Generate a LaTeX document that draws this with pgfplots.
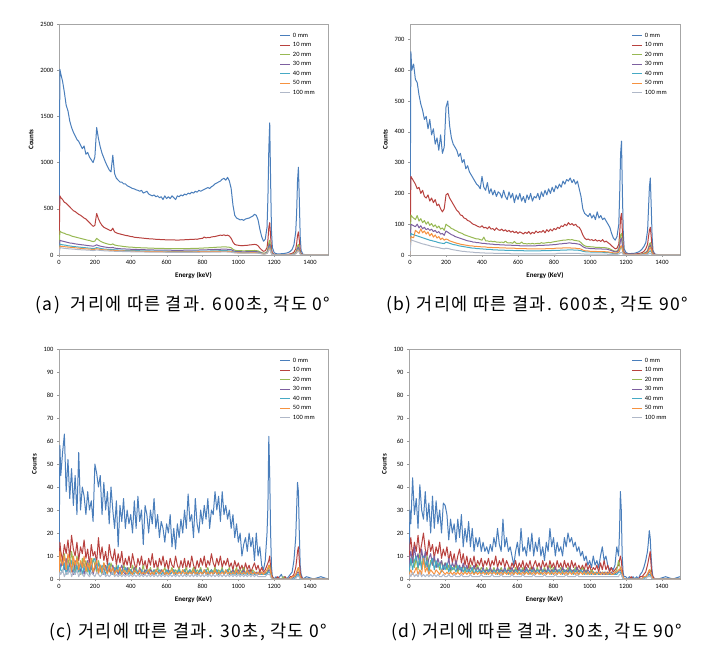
\documentclass[border=0pt]{standalone}
\usepackage{fontspec}
\setmainfont{Carlito}
\newfontfamily\kr[LetterSpace=8]{Noto Sans CJK KR}
\usepackage{pgfplots}
\usepackage{pgfplotstable}
\pgfplotsset{compat=1.18}
\definecolor{c0}{HTML}{4A7EBB}
\definecolor{c1}{HTML}{B8423F}
\definecolor{c2}{HTML}{98B954}
\definecolor{c3}{HTML}{7D60A0}
\definecolor{c4}{HTML}{46AAC5}
\definecolor{c5}{HTML}{F69240}
\definecolor{c6}{HTML}{B0B8C8}

\pgfplotstableread{
x s0 s1 s2 s3 s4 s5 s6
0 0 0 0 0 0 0 0
5 2010 640 260 160 120 100 80
10 1960 620 250 155 115 95 78
20 1880 600 240 150 110 92 75
30 1760 570 235 145 108 90 72
40 1620 560 225 140 105 88 70
50 1560 540 220 135 100 86 68
60 1450 520 215 130 98 84 66
70 1380 500 205 128 95 82 65
80 1330 480 200 125 92 80 63
90 1290 470 195 120 90 78 62
100 1250 455 190 118 88 76 60
110 1230 440 185 115 86 74 58
120 1190 430 180 112 84 72 57
130 1150 415 175 110 82 70 56
140 1180 400 170 108 80 68 55
150 1090 390 165 105 78 66 54
160 1110 370 160 102 76 65 53
170 1060 350 158 100 75 64 52
180 1030 330 150 98 72 62 50
190 1000 310 145 95 70 60 48
200 1060 320 150 100 72 62 50
210 1380 450 180 110 80 68 56
220 1260 390 165 102 76 64 52
230 1170 350 150 96 72 60 50
240 1100 320 140 92 68 58 48
250 1050 300 132 88 65 56 46
260 1000 290 126 85 63 55 45
270 960 280 120 82 62 54 44
280 920 270 115 80 60 52 43
290 900 262 112 78 58 50 42
300 1080 290 120 82 60 52 42
310 880 250 108 75 56 48 40
320 830 240 104 72 55 47 40
330 810 232 100 70 54 46 39
340 790 228 98 68 53 45 38
350 790 222 95 67 52 44 38
360 770 218 92 66 51 44 37
370 770 212 90 65 50 43 37
380 750 210 88 64 50 43 36
390 740 205 86 63 49 42 36
400 730 200 85 62 48 42 35
410 720 198 84 61 48 41 35
420 715 192 82 60 47 41 34
430 705 190 80 60 47 40 34
440 700 188 80 59 46 40 34
450 690 186 79 58 46 40 33
460 700 184 78 58 45 39 33
470 670 182 77 57 45 39 33
480 680 180 76 57 44 38 32
490 690 178 76 56 44 38 32
500 660 176 75 56 44 38 32
510 650 175 74 55 43 37 31
520 640 174 74 55 43 37 31
530 650 172 73 54 43 37 31
540 630 170 73 54 42 36 31
550 640 170 72 54 42 36 30
560 620 168 72 53 42 36 30
570 630 167 71 53 41 36 30
580 600 166 71 53 41 35 30
590 640 165 70 52 41 35 30
600 610 165 70 52 41 35 29
610 630 164 70 52 40 35 29
620 610 164 69 52 40 35 29
630 640 163 69 51 40 34 29
640 620 163 69 51 40 34 29
650 600 162 68 51 40 34 28
660 640 162 68 51 39 34 28
670 630 162 68 51 39 34 28
680 650 163 68 51 39 34 28
690 640 164 69 51 39 34 28
700 660 165 69 52 40 34 28
710 650 166 70 52 40 34 28
720 670 167 70 52 40 35 28
730 660 168 70 52 40 35 29
740 680 170 71 53 40 35 29
750 670 168 71 53 41 35 29
760 690 172 72 53 41 35 29
770 680 170 72 54 41 35 29
780 700 175 73 54 41 36 29
790 690 178 74 55 42 36 30
800 700 180 75 55 42 36 30
810 710 195 76 56 42 36 30
820 720 185 77 56 43 37 30
830 730 190 78 57 43 37 30
840 720 188 79 57 43 37 31
850 740 195 80 58 44 38 31
860 750 198 81 59 44 38 31
870 770 200 82 60 45 38 31
880 780 205 84 61 45 39 32
890 790 210 85 62 46 39 32
900 800 215 86 62 46 40 32
910 820 212 87 63 47 40 33
920 830 218 88 64 47 40 33
930 810 210 87 63 47 40 33
940 840 215 86 62 46 39 32
950 800 205 84 61 45 38 32
960 720 180 78 57 42 36 30
970 540 140 62 47 36 31 26
980 430 115 52 40 31 27 23
990 400 108 48 37 29 25 22
1000 390 105 47 36 28 25 21
1010 380 102 46 36 28 24 21
1020 385 100 46 35 27 24 21
1030 375 102 45 35 27 24 20
1040 390 104 46 35 27 24 20
1050 395 105 46 36 28 24 20
1060 400 108 47 36 28 24 21
1070 410 110 48 37 28 25 21
1080 420 112 48 37 29 25 21
1090 440 115 49 38 29 25 21
1100 430 112 48 37 28 24 21
1110 380 100 44 34 26 22 19
1120 280 75 34 27 21 18 16
1130 200 55 26 21 17 15 13
1140 150 40 20 16 13 12 10
1150 170 45 22 18 14 13 11
1160 300 80 35 28 22 19 16
1165 620 160 70 52 40 35 30
1170 1150 300 130 95 72 62 52
1175 1430 350 160 120 90 78 65
1180 800 200 90 68 52 45 38
1185 250 65 30 23 18 16 13
1190 80 20 10 8 6 5 5
1200 25 8 4 3 3 2 2
1210 15 5 3 2 2 2 1
1220 12 4 2 2 1 1 1
1230 12 4 2 2 1 1 1
1240 14 4 2 2 1 1 1
1250 15 5 2 2 1 1 1
1260 18 5 3 2 2 1 1
1270 22 6 3 2 2 2 1
1280 28 8 4 3 2 2 2
1290 40 12 5 4 3 3 2
1300 60 18 8 6 5 4 3
1310 110 30 14 10 8 7 6
1320 250 65 30 22 17 15 12
1325 450 120 55 40 30 26 22
1330 800 210 95 70 52 45 38
1335 950 250 115 85 63 55 46
1340 600 160 72 54 40 35 29
1345 200 55 25 18 14 12 10
1350 50 15 7 5 4 3 3
1360 8 3 1 1 1 1 1
1380 2 1 0 0 0 0 0
1420 0 0 0 0 0 0 0
1460 0 0 0 0 0 0 0
1500 0 0 0 0 0 0 0
}\ta

\pgfplotstableread{
x s0 s1 s2 s3 s4 s5 s6
0 0 0 0 0 0 0 0
5 660 255 130 100 70 60 50
10 600 250 125 98 68 58 48
20 620 240 120 95 66 56 46
30 570 230 115 92 64 80 44
40 560 215 128 100 62 75 42
50 520 220 110 88 60 70 40
60 490 200 118 95 58 85 38
70 470 210 105 85 56 72 36
80 440 190 112 90 54 78 35
90 450 185 100 82 52 68 33
100 410 195 108 86 50 75 32
110 440 175 96 80 48 62 30
120 390 185 102 84 47 70 28
130 410 170 92 76 45 58 27
140 360 180 98 80 44 65 26
150 380 160 88 72 42 55 25
160 340 165 94 76 40 60 24
170 390 150 84 68 39 50 22
180 330 140 88 70 38 55 21
190 350 150 80 64 37 48 20
200 480 195 100 78 42 52 22
210 500 200 95 74 40 50 21
220 420 185 92 70 38 46 20
230 380 175 86 66 36 44 18
240 360 165 84 64 34 42 17
250 350 155 80 60 33 40 16
260 340 145 78 58 32 38 15
270 320 140 74 56 30 37 14
280 330 130 72 54 29 35 13
290 300 128 70 52 28 34 12
300 310 120 66 50 27 33 12
310 280 118 64 48 26 32 11
320 290 112 62 46 25 31 10
330 270 110 60 45 24 30 10
340 260 105 58 44 23 30 9
350 250 100 56 42 22 29 9
360 240 98 54 42 22 28 8
370 230 95 52 40 21 28 8
380 225 92 52 40 21 27 8
390 215 90 50 39 20 27 7
400 255 95 48 38 20 26 7
410 220 88 58 38 19 26 7
420 210 90 46 37 19 26 6
430 235 85 46 36 18 25 6
440 200 92 44 36 18 25 6
450 215 84 45 35 18 25 6
460 195 86 43 35 17 24 6
470 210 80 44 34 17 24 5
480 190 88 42 34 17 24 5
490 205 82 42 34 16 24 5
500 200 80 41 33 16 23 5
510 185 84 42 33 16 23 5
520 210 78 40 33 16 23 5
530 190 82 45 32 15 23 5
540 180 76 40 32 15 22 5
550 205 80 39 32 15 22 5
560 185 74 40 32 15 22 4
570 200 78 38 31 15 22 4
580 170 72 44 31 14 22 4
590 195 76 38 31 14 21 4
600 180 70 38 31 14 21 4
610 200 75 37 30 14 21 4
620 175 72 42 30 14 21 4
630 190 68 37 30 14 21 4
640 170 74 37 30 13 21 4
650 195 70 36 30 13 20 4
660 180 76 37 30 13 20 4
670 200 68 36 30 13 20 4
680 175 74 38 30 13 20 4
690 190 70 36 30 13 20 4
700 185 78 37 30 13 20 4
710 200 72 38 31 13 20 4
720 180 76 37 31 13 20 4
730 205 74 40 31 14 20 4
740 190 80 38 31 14 20 4
750 210 72 39 32 14 20 4
760 195 82 40 32 14 21 4
770 215 76 41 32 14 21 4
780 200 84 40 33 14 21 4
790 220 78 42 33 15 21 4
800 205 86 43 34 15 21 4
810 225 82 44 34 15 22 4
820 215 90 45 35 15 22 5
830 230 86 46 36 15 22 5
840 220 95 47 36 16 22 5
850 240 92 48 37 16 23 5
860 230 100 48 38 16 23 5
870 245 95 49 38 16 23 5
880 240 105 50 39 17 23 5
890 250 98 49 39 17 23 5
900 235 102 50 38 17 22 5
910 245 96 48 38 16 22 5
920 230 100 47 37 16 22 5
930 240 92 46 36 16 21 5
940 215 90 45 35 15 21 5
950 190 80 40 32 14 19 4
960 150 65 34 27 12 16 4
970 135 55 30 24 11 14 3
980 130 50 28 22 10 13 3
990 125 52 27 22 10 13 3
1000 135 48 27 21 10 12 3
1010 120 50 26 21 9 12 3
1020 130 46 26 21 9 12 3
1030 115 50 25 20 9 12 3
1040 140 45 25 20 9 11 3
1050 120 48 25 20 9 11 3
1060 128 44 24 20 9 11 3
1070 115 50 24 19 9 11 3
1080 120 42 24 19 8 11 3
1090 110 45 23 19 8 10 3
1100 100 40 22 18 8 10 2
1110 90 36 20 16 7 9 2
1120 70 30 17 14 6 8 2
1130 55 25 14 12 5 7 2
1140 48 20 12 10 5 6 2
1150 60 22 13 11 5 7 2
1160 100 35 20 16 8 10 3
1165 200 70 40 30 15 18 5
1170 330 120 65 50 25 28 8
1175 370 135 70 55 28 30 9
1180 200 75 40 30 16 18 5
1185 70 25 14 11 6 7 2
1190 20 8 4 3 2 2 1
1200 8 4 2 2 1 1 0
1210 5 3 2 1 1 1 0
1220 4 3 1 1 1 1 0
1230 5 3 1 1 1 1 0
1240 5 3 1 1 1 1 0
1250 6 3 2 1 1 1 0
1260 8 4 2 2 1 1 0
1270 10 5 2 2 1 1 0
1280 14 6 3 2 1 1 0
1290 20 8 4 3 1 2 1
1300 28 12 6 4 2 3 1
1310 40 20 9 7 3 5 1
1320 80 35 15 12 5 8 2
1325 150 60 25 20 8 13 3
1330 220 80 35 28 12 20 4
1335 250 90 40 32 14 25 5
1340 160 60 28 22 10 17 3
1345 60 25 12 9 4 7 1
1350 15 7 3 3 1 2 0
1360 3 2 1 1 0 0 0
1380 1 0 0 0 0 0 0
1420 0 0 0 0 0 0 0
1460 0 0 0 0 0 0 0
1500 0 0 0 0 0 0 0
}\tb

\pgfplotstableread{
x s0 s1 s2 s3 s4 s5 s6
0 0 0 0 0 0 0 0
5 58 16 10 7 6 12 3
10 45 12 8 5 4 9 2
20 55 8 6 8 3 6 4
30 63 15 11 4 7 10 1
40 38 11 5 9 2 4 3
50 52 17 9 3 6 11 2
60 35 9 4 7 3 8 5
70 48 19 12 5 8 3 1
80 32 13 7 2 4 10 3
90 45 10 3 8 2 6 2
100 28 16 10 4 6 9 4
110 55 8 6 6 3 4 1
120 30 14 2 3 7 8 3
130 40 11 9 7 2 5 2
140 36 17 5 2 5 10 1
150 28 9 8 5 3 3 3
160 38 13 3 8 6 7 2
170 30 6 7 3 2 4 1
180 34 15 4 6 5 9 3
190 25 10 9 2 8 3 2
200 50 12 6 5 9 6 1
210 46 7 3 7 4 8 3
220 40 18 8 3 7 2 2
230 45 9 5 6 3 6 1
240 28 14 2 4 6 3 2
250 42 8 7 2 4 7 3
260 30 12 4 6 2 4 1
270 38 6 6 3 5 2 2
280 24 15 3 5 7 6 1
290 40 10 7 2 3 3 2
300 30 8 4 6 2 5 3
310 22 13 2 3 5 2 1
320 34 6 6 5 3 4 2
330 14 11 3 2 6 3 1
340 32 7 5 4 2 5 2
350 25 12 2 6 4 2 1
360 35 5 6 3 3 4 2
370 22 9 4 2 5 3 1
380 30 6 3 5 3 2 2
390 24 10 5 3 2 4 1
400 28 5 2 4 4 3 2
410 20 11 6 2 3 2 1
420 34 7 3 5 2 4 2
430 22 4 5 3 4 3 1
440 36 9 2 2 3 2 2
450 25 6 4 5 2 4 1
460 30 10 3 3 4 2 2
470 15 5 6 2 3 3 1
480 32 8 2 4 2 2 2
490 28 4 4 3 4 3 1
500 20 9 3 2 3 4 2
510 30 6 5 4 2 2 1
520 24 11 2 3 3 3 2
530 35 5 4 2 4 2 1
540 22 8 3 4 2 4 2
550 28 4 5 3 3 3 1
560 18 9 2 2 4 2 2
570 25 6 4 4 2 3 1
580 22 10 3 3 3 4 2
590 16 5 5 2 2 2 1
600 24 8 2 3 4 3 2
610 20 4 4 4 3 2 1
620 28 9 3 2 2 3 2
630 14 6 5 3 3 4 1
640 22 5 2 4 4 2 2
650 13 10 4 2 2 3 1
660 24 6 3 3 3 2 2
670 18 4 5 4 4 3 1
680 26 8 2 2 2 2 2
690 20 5 4 3 3 4 1
700 30 9 3 4 4 2 2
710 22 4 5 2 2 3 1
720 37 8 2 3 3 2 2
730 25 5 4 4 4 3 1
740 28 10 3 2 2 2 2
750 18 6 5 3 3 4 1
760 35 4 2 4 4 2 2
770 24 8 4 2 2 3 1
780 20 5 3 3 3 2 2
790 30 9 5 4 4 3 1
800 24 6 2 2 2 2 2
810 32 10 4 3 3 4 1
820 26 5 3 4 4 2 2
830 35 8 5 2 2 3 1
840 22 6 2 3 3 2 2
850 30 11 4 4 4 3 1
860 28 7 3 2 2 2 2
870 38 5 5 3 3 4 1
880 30 9 2 4 4 2 2
890 36 6 4 2 2 3 1
900 25 10 3 3 3 2 2
910 38 5 5 4 4 3 1
920 28 8 2 2 2 2 2
930 32 6 4 3 3 4 1
940 26 9 3 4 4 2 2
950 30 5 5 2 2 3 1
960 22 7 2 3 3 2 2
970 28 4 4 4 2 3 1
980 18 8 3 2 3 2 2
990 24 5 5 3 2 4 1
1000 16 7 2 4 3 2 2
1010 20 4 4 2 2 3 1
1020 10 6 3 3 3 2 2
1030 15 3 5 4 2 3 1
1040 18 7 2 2 3 2 2
1050 12 4 4 3 2 4 1
1060 20 6 3 4 3 2 2
1070 14 3 2 2 2 3 1
1080 18 5 4 3 3 2 2
1090 8 7 3 2 2 3 1
1100 20 4 2 3 2 2 2
1110 10 6 3 2 3 3 1
1120 14 3 2 3 2 2 1
1130 6 5 3 2 2 3 1
1140 4 3 2 2 2 2 1
1150 8 4 2 3 2 3 1
1160 20 6 3 2 2 4 2
1165 32 7 4 3 3 5 2
1170 62 8 5 4 3 6 2
1175 45 10 6 4 3 5 2
1180 20 5 3 2 2 3 1
1185 5 2 1 1 1 1 0
1190 1 1 0 0 0 0 0
1200 0 0 0 0 0 0 0
1210 1 0 0 0 0 0 0
1220 0 1 0 0 0 0 0
1230 1 0 0 0 0 0 0
1240 2 0 0 0 0 0 0
1250 0 0 1 0 0 0 0
1260 1 1 0 0 0 0 0
1270 0 0 0 0 0 0 0
1280 1 0 0 0 0 0 0
1290 2 1 0 0 0 0 0
1300 3 1 0 0 0 1 0
1310 8 2 1 1 0 1 0
1320 18 5 2 1 1 2 0
1325 30 8 3 2 1 3 1
1330 42 12 4 3 2 4 1
1335 38 14 5 3 2 5 1
1340 20 8 3 2 1 3 1
1345 6 3 1 1 0 1 0
1350 2 1 0 0 0 0 0
1360 0 0 0 0 0 0 0
1380 1 0 0 0 0 0 0
1420 0 0 0 0 0 0 0
1460 1 0 0 0 0 0 0
1500 0 0 0 0 0 0 0
}\tc

\pgfplotstableread{
x s0 s1 s2 s3 s4 s5 s6
0 0 0 0 0 0 0 0
5 30 15 8 10 6 3 2
10 24 18 6 12 9 4 1
20 44 10 10 7 4 2 3
30 28 16 5 14 8 3 1
40 35 12 9 8 10 5 2
50 22 19 4 11 5 2 1
60 41 11 11 6 9 4 3
70 30 15 6 13 4 2 1
80 26 20 8 7 10 9 2
90 38 13 5 12 6 3 1
100 25 10 10 5 8 5 2
110 33 17 4 9 3 2 1
120 20 12 8 11 7 4 2
130 36 15 6 6 9 3 1
140 22 9 9 10 4 2 2
150 34 14 5 5 8 4 1
160 24 11 7 9 5 3 2
170 30 16 4 6 7 2 1
180 20 9 8 8 3 4 1
190 33 13 5 4 6 3 2
200 32 10 7 7 4 2 1
210 28 14 4 5 7 3 1
220 17 8 6 9 3 2 2
230 26 12 3 4 6 3 1
240 20 7 5 7 4 2 1
250 24 11 4 5 5 3 2
260 16 6 6 8 3 2 1
270 26 10 3 4 6 3 1
280 18 13 5 6 4 2 1
290 28 7 4 3 5 3 2
300 14 11 6 7 3 2 1
310 22 6 3 4 5 3 1
320 16 10 5 6 3 2 1
330 25 5 4 3 4 3 1
340 14 9 6 5 3 2 2
350 22 6 3 4 5 3 1
360 12 10 5 6 2 2 1
370 18 5 4 3 4 3 1
380 14 8 6 5 3 2 1
390 18 6 3 4 4 3 1
400 12 9 5 3 2 2 2
410 16 5 4 5 4 3 1
420 12 8 3 3 3 2 1
430 14 6 5 4 2 3 1
440 11 9 3 3 4 2 1
450 15 5 4 5 3 3 1
460 12 8 3 3 2 2 2
470 18 6 5 4 4 3 1
480 14 10 3 3 3 2 1
490 22 5 4 5 2 3 1
500 15 8 3 3 4 2 1
510 12 6 5 4 3 3 2
520 26 9 3 3 2 2 1
530 14 5 4 5 4 3 1
540 18 8 3 3 3 2 1
550 12 6 5 4 2 3 1
560 14 4 3 3 4 2 1
570 10 7 4 5 3 3 2
580 6 5 3 3 2 2 1
590 12 8 5 4 4 3 1
600 16 4 3 3 3 2 1
610 10 7 4 5 2 3 1
620 22 5 3 3 4 2 1
630 12 8 5 4 3 3 2
640 14 4 3 3 2 2 1
650 10 7 4 5 4 3 1
660 18 5 3 3 3 2 1
670 12 8 5 4 2 3 1
680 20 4 3 3 4 2 1
690 10 6 4 5 3 3 2
700 16 8 3 3 2 2 1
710 12 5 5 4 4 3 1
720 18 7 3 3 3 2 1
730 10 4 4 5 2 3 1
740 14 8 3 3 4 2 1
750 8 5 5 4 3 3 2
760 16 7 3 3 2 2 1
770 12 4 4 5 4 3 1
780 22 8 6 3 3 2 1
790 14 5 3 4 2 3 1
800 18 7 5 3 4 2 1
810 10 4 3 5 3 3 2
820 16 8 4 3 2 2 1
830 12 5 3 4 4 3 1
840 14 7 5 3 3 2 1
850 10 4 3 5 2 3 1
860 18 8 4 3 4 2 1
870 14 5 3 4 3 3 2
880 20 7 5 3 2 2 1
890 16 4 3 5 4 3 1
900 18 8 4 3 3 2 1
910 14 5 3 4 2 3 1
920 16 7 5 3 4 2 1
930 12 4 3 5 3 3 2
940 14 6 4 3 2 2 1
950 10 4 3 4 4 3 1
960 12 6 5 3 3 2 1
970 8 4 3 4 2 3 1
980 10 7 4 3 3 2 1
990 6 4 3 4 2 3 1
1000 8 6 2 3 3 2 1
1010 5 3 4 2 2 3 1
1020 10 5 3 3 3 2 1
1030 6 4 2 2 2 3 1
1040 8 6 3 3 3 2 1
1050 5 3 2 2 2 3 1
1060 10 7 3 3 2 2 1
1070 14 4 2 2 3 3 1
1080 8 8 3 3 2 2 1
1090 10 4 2 2 3 3 1
1100 6 6 3 3 2 2 1
1110 4 3 2 2 2 3 1
1120 5 5 3 3 2 2 1
1130 4 3 2 2 2 2 1
1140 6 4 3 2 2 3 1
1150 14 5 4 3 2 3 1
1160 10 6 8 3 3 4 1
1165 20 8 6 4 3 4 2
1170 38 10 5 4 3 5 2
1175 30 8 4 3 2 4 2
1180 10 4 2 2 1 2 1
1185 3 1 1 1 0 1 0
1190 1 0 0 0 0 0 0
1200 1 0 0 0 0 0 0
1210 0 0 0 0 0 0 0
1220 1 0 0 0 0 0 0
1230 0 1 0 0 0 0 0
1240 1 0 0 0 0 0 0
1250 0 0 0 0 0 0 0
1260 1 0 0 0 0 0 0
1270 0 0 0 0 0 0 0
1280 2 1 0 0 0 0 0
1290 3 1 0 0 0 0 0
1300 5 2 1 1 0 1 0
1310 8 3 1 1 1 1 0
1320 12 6 2 2 1 2 1
1325 16 8 3 2 1 3 1
1330 21 10 4 3 2 4 1
1335 18 12 4 3 2 3 1
1340 10 6 2 2 1 2 1
1345 4 2 1 1 0 1 0
1350 1 1 0 0 0 0 0
1360 0 0 0 0 0 0 0
1380 0 0 0 0 0 0 0
1420 1 0 0 0 0 0 0
1460 0 0 0 0 0 0 0
1500 1 0 0 0 0 0 0
}\td

\pgfplotsset{
  spec/.style={
    scale only axis,
    xmin=0, xmax=1500, ymin=0,
    xtick={0,200,...,1400},
    axis line style={gray!70},
    tick style={gray!80},
    tick align=outside,
    tick pos=left,
    major tick length=2pt,
    ticklabel style={font=\fontsize{6.5}{7}\selectfont},
    /pgf/number format/assume math mode=true,
    /pgf/number format/1000 sep={},
    scaled y ticks=false,
    ylabel={Counts},
    ylabel style={font=\fontsize{7}{8}\selectfont\bfseries},
    xlabel style={font=\fontsize{7}{8}\selectfont\bfseries},
    legend style={draw=none, fill=none, font=\fontsize{6.5}{7}\selectfont,
      at={(0.97,0.98)}, anchor=north east, row sep=-0.2pt},
    legend cell align=left,
    every axis plot/.append style={line width=1pt, line join=round},
    legend image code/.code={\draw[#1, line width=1pt] (0pt,0pt) -- (10pt,0pt);},
  }
}
\newcommand{\allplots}[1]{%
  \addplot[c0] table[x=x,y=s0]{#1}; \addlegendentry{0 mm}
  \addplot[c1] table[x=x,y=s1]{#1}; \addlegendentry{10 mm}
  \addplot[c2] table[x=x,y=s2]{#1}; \addlegendentry{20 mm}
  \addplot[c3] table[x=x,y=s3]{#1}; \addlegendentry{30 mm}
  \addplot[c4] table[x=x,y=s4]{#1}; \addlegendentry{40 mm}
  \addplot[c5] table[x=x,y=s5]{#1}; \addlegendentry{50 mm}
  \addplot[c6] table[x=x,y=s6]{#1}; \addlegendentry{100 mm}
}

\begin{document}
\begin{tikzpicture}
\path[use as bounding box] (0pt,0pt) rectangle (704pt,651pt);

\begin{axis}[spec, at={(59pt,396pt)}, anchor=south west, width=269pt, height=231pt,
  ymax=2500, ytick={0,500,...,2500}, xlabel={Energy (keV)}]
\allplots{\ta}
\end{axis}

\begin{axis}[spec, at={(410pt,396pt)}, anchor=south west, width=270pt, height=231pt,
  ymax=750, ytick={0,100,...,700}, xlabel={Energy (KeV)}]
\allplots{\tb}
\end{axis}

\begin{axis}[spec, at={(59pt,72pt)}, anchor=south west, width=269pt, height=230pt,
  ymax=100, ytick={0,10,...,100}, xlabel={Energy (KeV)}]
\allplots{\tc}
\end{axis}

\begin{axis}[spec, at={(409pt,72pt)}, anchor=south west, width=271pt, height=230pt,
  ymax=100, ytick={0,10,...,100}, xlabel={Energy (KeV)}]
\allplots{\td}
\end{axis}

\node[font=\kr\fontsize{17.5}{20}\selectfont] at (183pt,346pt) {(a)\ \ 거리에 따른 결과. 600초, 각도 0°};
\node[font=\kr\fontsize{17.5}{20}\selectfont] at (537pt,346pt) {(b) 거리에 따른 결과. 600초, 각도 90°};
\node[font=\kr\fontsize{17.5}{20}\selectfont] at (188pt,19pt) {(c) 거리에 따른 결과. 30초, 각도 0°};
\node[font=\kr\fontsize{17.5}{20}\selectfont] at (537pt,19pt) {(d) 거리에 따른 결과. 30초, 각도 90°};
\end{tikzpicture}
\end{document}
